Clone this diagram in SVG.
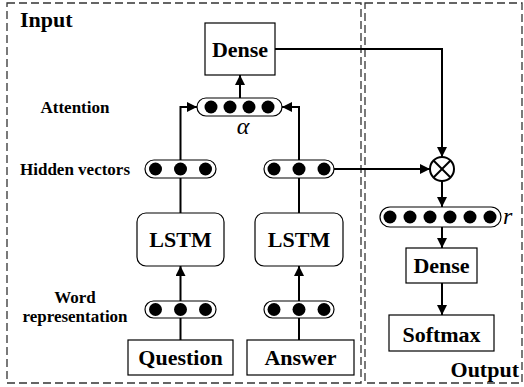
<svg xmlns="http://www.w3.org/2000/svg" width="524" height="387" viewBox="0 0 524 387">
<defs>
<marker id="ah" viewBox="0 0 10 10" refX="10" refY="5" markerWidth="5" markerHeight="5" orient="auto" markerUnits="strokeWidth">
<path d="M0,0 L10,5 L0,10 z" fill="#000"/>
</marker>
</defs>
<style>
.frame{fill:none;stroke:#333;stroke-width:1.3;stroke-dasharray:8 4}
.box{fill:#fff;stroke:#000;stroke-width:1.2}
.pill{fill:#fff;stroke:#000;stroke-width:1.2}
.dot{fill:#000}
.t{font-family:"Liberation Serif",serif;font-weight:bold;fill:#000}
.big{font-size:22px}
.lbl{font-size:17px;text-anchor:middle}
.c{text-anchor:middle}
.sym{font-family:"Liberation Serif",serif;font-style:italic;font-size:24px;fill:#000}
.ln{fill:none;stroke:#000;stroke-width:2}
.arr{fill:none;stroke:#000;stroke-width:2;marker-end:url(#ah)}
</style>
<rect width="524" height="387" fill="#fff"/>
<g id="input-frame">
<rect class="frame" x="7" y="3" width="354" height="380"/>
<text class="t big" x="20" y="27">Input</text>
</g>
<g id="output-frame">
<rect class="frame" x="365" y="3" width="157" height="380"/>
<text class="t big" x="519" y="377" text-anchor="end">Output</text>
</g>
<g id="labels">
<text class="t lbl" x="75" y="113">Attention</text>
<text class="t lbl" x="75" y="175">Hidden vectors</text>
<text class="t lbl" x="75" y="303">Word</text>
<text class="t lbl" x="75" y="322">representation</text>
</g>
<g id="connectors">
<line class="ln" x1="180.5" y1="340" x2="180.5" y2="318"/>
<line class="arr" x1="180.5" y1="301" x2="180.5" y2="266"/>
<line class="ln" x1="180.5" y1="213" x2="180.5" y2="178"/>
<polyline class="arr" points="180.5,160 180.5,107 197,107"/>
<line class="ln" x1="299" y1="340" x2="299" y2="318"/>
<line class="arr" x1="299" y1="301" x2="299" y2="266"/>
<line class="ln" x1="299" y1="213" x2="299" y2="178"/>
<polyline class="arr" points="299,160 299,107 282,107"/>
<line class="arr" x1="240" y1="98" x2="240" y2="75"/>
<line class="arr" x1="334" y1="169" x2="430" y2="169"/>
<polyline class="arr" points="275,49 442,49 442,157"/>
<line class="arr" x1="442" y1="181" x2="442" y2="207"/>
<line class="arr" x1="442" y1="227" x2="442" y2="248"/>
<line class="arr" x1="442" y1="283" x2="442" y2="315"/>
</g>
<g id="dense-top">
<rect class="box" x="205" y="23" width="70" height="52"/>
<text class="t big c" x="240" y="57">Dense</text>
</g>
<g id="attention">
<rect class="pill" x="197" y="98" width="85" height="18" rx="9"/>
<circle class="dot" cx="211" cy="107" r="6.5"/>
<circle class="dot" cx="230" cy="107" r="6.5"/>
<circle class="dot" cx="249" cy="107" r="6.5"/>
<circle class="dot" cx="268" cy="107" r="6.5"/>
<text class="sym" x="243" y="134" text-anchor="middle">α</text>
</g>
<g id="hidden-q">
<rect class="pill" x="145" y="160" width="71" height="18" rx="9"/>
<circle class="dot" cx="155.5" cy="169" r="6.5"/>
<circle class="dot" cx="180.5" cy="169" r="6.5"/>
<circle class="dot" cx="205.5" cy="169" r="6.5"/>
</g>
<g id="hidden-a">
<rect class="pill" x="264" y="160" width="70" height="18" rx="9"/>
<circle class="dot" cx="274" cy="169" r="6.5"/>
<circle class="dot" cx="299" cy="169" r="6.5"/>
<circle class="dot" cx="324" cy="169" r="6.5"/>
</g>
<g id="lstm-q">
<rect class="box" x="137" y="213" width="87" height="53" rx="9"/>
<text class="t big c" x="180.5" y="247">LSTM</text>
</g>
<g id="lstm-a">
<rect class="box" x="255" y="213" width="88" height="53" rx="9"/>
<text class="t big c" x="299" y="247">LSTM</text>
</g>
<g id="word-q">
<rect class="pill" x="145" y="301" width="71" height="17" rx="8.5"/>
<circle class="dot" cx="155.5" cy="309.5" r="6.5"/>
<circle class="dot" cx="180.5" cy="309.5" r="6.5"/>
<circle class="dot" cx="205.5" cy="309.5" r="6.5"/>
</g>
<g id="word-a">
<rect class="pill" x="264" y="301" width="70" height="17" rx="8.5"/>
<circle class="dot" cx="274" cy="309.5" r="6.5"/>
<circle class="dot" cx="299" cy="309.5" r="6.5"/>
<circle class="dot" cx="324" cy="309.5" r="6.5"/>
</g>
<g id="question">
<rect class="box" x="128" y="340" width="105" height="35"/>
<text class="t big c" x="180.5" y="365">Question</text>
</g>
<g id="answer">
<rect class="box" x="247" y="340" width="107" height="35"/>
<text class="t big c" x="300.5" y="365">Answer</text>
</g>
<g id="multiply">
<circle cx="442" cy="169" r="12" fill="#fff" stroke="#000" stroke-width="2"/>
<line class="ln" x1="433.5" y1="160.5" x2="450.5" y2="177.5"/>
<line class="ln" x1="450.5" y1="160.5" x2="433.5" y2="177.5"/>
</g>
<g id="r-vector">
<rect class="pill" x="380" y="207" width="121" height="20" rx="10"/>
<circle class="dot" cx="390" cy="217" r="6.5"/>
<circle class="dot" cx="410" cy="217" r="6.5"/>
<circle class="dot" cx="430" cy="217" r="6.5"/>
<circle class="dot" cx="450" cy="217" r="6.5"/>
<circle class="dot" cx="470" cy="217" r="6.5"/>
<circle class="dot" cx="490" cy="217" r="6.5"/>
<text class="sym" x="503" y="224">r</text>
</g>
<g id="dense-out">
<rect class="box" x="406" y="248" width="71" height="35"/>
<text class="t big c" x="441.5" y="273">Dense</text>
</g>
<g id="softmax">
<rect class="box" x="389" y="315" width="105" height="36"/>
<text class="t big c" x="441.5" y="342">Softmax</text>
</g>
</svg>
